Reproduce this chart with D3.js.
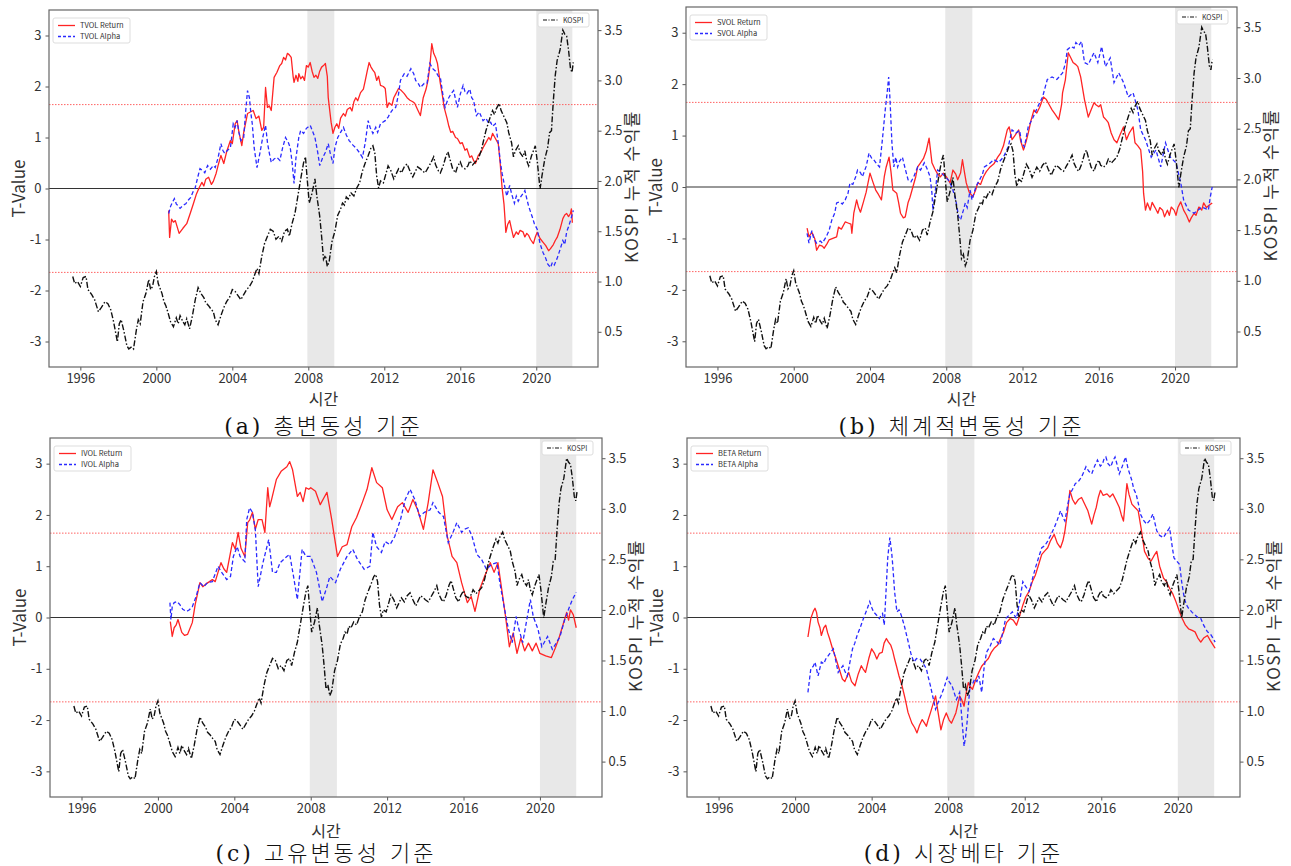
<!DOCTYPE html>
<html>
<head>
<meta charset="utf-8">
<script src="https://cdn.jsdelivr.net/npm/d3@7"></script>
<style>
  body { margin: 0; background: #fff; }
  text { font-family: "Noto Sans CJK KR", "Noto Sans", sans-serif; }
</style>
</head>
<body>
<script>
// ---------- DATA ----------
const xTicks = [1996, 2000, 2004, 2008, 2012, 2016, 2020];
const tTicks = [-3, -2, -1, 0, 1, 2, 3];
const kTicks = [0.5, 1.0, 1.5, 2.0, 2.5, 3.0, 3.5];
const critical = [1.645, -1.645];
const crisisBands = [[2007.95, 2009.37], [2020.0, 2021.9]];

const kospi = [[1995.6,1.05],[1995.7,0.98],[1995.85,1.0],[1996.0,0.95],[1996.15,1.04],[1996.3,1.05],[1996.4,0.92],[1996.6,0.87],[1996.75,0.82],[1996.95,0.70],[1997.1,0.74],[1997.3,0.80],[1997.45,0.78],[1997.6,0.72],[1997.75,0.60],[1997.95,0.40],[1998.05,0.58],[1998.15,0.62],[1998.3,0.50],[1998.45,0.36],[1998.55,0.33],[1998.7,0.35],[1998.8,0.33],[1998.95,0.52],[1999.05,0.62],[1999.15,0.58],[1999.3,0.80],[1999.45,0.88],[1999.6,1.02],[1999.7,0.92],[1999.8,0.95],[1999.9,1.05],[2000.0,1.10],[2000.1,0.98],[2000.2,0.93],[2000.3,0.88],[2000.4,0.80],[2000.5,0.76],[2000.6,0.70],[2000.75,0.60],[2000.9,0.55],[2001.05,0.64],[2001.15,0.58],[2001.25,0.66],[2001.4,0.60],[2001.5,0.57],[2001.6,0.63],[2001.75,0.53],[2001.9,0.66],[2002.05,0.82],[2002.2,0.94],[2002.35,0.88],[2002.5,0.84],[2002.6,0.79],[2002.75,0.76],[2002.9,0.72],[2003.0,0.70],[2003.1,0.62],[2003.25,0.57],[2003.4,0.66],[2003.55,0.74],[2003.7,0.80],[2003.85,0.84],[2004.0,0.92],[2004.15,0.90],[2004.3,0.86],[2004.45,0.82],[2004.6,0.87],[2004.75,0.92],[2004.9,0.95],[2005.05,1.0],[2005.2,1.08],[2005.3,1.13],[2005.4,1.08],[2005.55,1.25],[2005.7,1.38],[2005.85,1.45],[2006.0,1.52],[2006.15,1.50],[2006.3,1.42],[2006.45,1.45],[2006.6,1.40],[2006.75,1.50],[2006.9,1.52],[2007.0,1.45],[2007.15,1.58],[2007.3,1.68],[2007.45,1.85],[2007.6,2.02],[2007.75,2.18],[2007.85,2.24],[2007.95,2.00],[2008.05,1.78],[2008.2,1.88],[2008.35,2.02],[2008.45,1.85],[2008.6,1.65],[2008.7,1.45],[2008.8,1.22],[2008.9,1.26],[2009.0,1.15],[2009.1,1.20],[2009.25,1.40],[2009.4,1.50],[2009.55,1.66],[2009.7,1.72],[2009.8,1.78],[2009.9,1.76],[2010.0,1.84],[2010.1,1.82],[2010.25,1.88],[2010.4,1.85],[2010.55,1.93],[2010.7,1.98],[2010.85,2.10],[2011.0,2.18],[2011.15,2.25],[2011.3,2.33],[2011.4,2.35],[2011.5,2.28],[2011.6,2.05],[2011.7,1.93],[2011.8,2.00],[2011.95,1.98],[2012.1,2.08],[2012.2,2.15],[2012.35,2.10],[2012.5,2.02],[2012.6,2.06],[2012.75,2.12],[2012.9,2.08],[2013.05,2.14],[2013.2,2.17],[2013.35,2.10],[2013.5,2.04],[2013.6,2.08],[2013.75,2.14],[2013.9,2.12],[2014.0,2.10],[2014.15,2.08],[2014.3,2.13],[2014.45,2.18],[2014.6,2.24],[2014.7,2.16],[2014.85,2.10],[2014.95,2.08],[2015.1,2.15],[2015.25,2.25],[2015.35,2.29],[2015.45,2.22],[2015.6,2.12],[2015.75,2.08],[2015.85,2.14],[2016.0,2.19],[2016.1,2.14],[2016.25,2.12],[2016.4,2.15],[2016.5,2.20],[2016.65,2.16],[2016.8,2.19],[2016.95,2.22],[2017.1,2.30],[2017.2,2.38],[2017.35,2.50],[2017.45,2.56],[2017.55,2.62],[2017.7,2.70],[2017.8,2.66],[2017.9,2.72],[2018.05,2.77],[2018.15,2.70],[2018.3,2.64],[2018.45,2.58],[2018.55,2.48],[2018.7,2.38],[2018.8,2.24],[2018.9,2.30],[2019.05,2.35],[2019.15,2.28],[2019.3,2.24],[2019.4,2.30],[2019.5,2.20],[2019.6,2.15],[2019.75,2.25],[2019.85,2.30],[2019.95,2.35],[2020.05,2.20],[2020.2,1.92],[2020.3,2.05],[2020.45,2.22],[2020.6,2.33],[2020.7,2.48],[2020.8,2.50],[2020.9,2.80],[2021.0,3.05],[2021.1,3.20],[2021.25,3.30],[2021.4,3.50],[2021.5,3.46],[2021.6,3.44],[2021.7,3.30],[2021.8,3.12],[2021.88,3.08],[2021.95,3.18]];

const tvolReturn = [[2000.65,-0.43],[2000.7,-0.96],[2000.8,-0.6],[2000.9,-0.66],[2001.0,-0.63],[2001.2,-0.88],[2001.4,-0.78],[2001.6,-0.69],[2001.8,-0.47],[2001.95,-0.3],[2002.1,-0.12],[2002.26,0.02],[2002.4,0.12],[2002.5,0.05],[2002.6,0.18],[2002.75,0.22],[2002.9,0.08],[2003.0,0.14],[2003.15,0.3],[2003.25,0.45],[2003.4,0.65],[2003.55,0.49],[2003.7,0.72],[2003.9,0.94],[2004.0,0.88],[2004.15,1.27],[2004.25,1.33],[2004.35,1.1],[2004.5,0.84],[2004.6,1.1],[2004.8,1.47],[2004.95,1.5],[2005.1,1.53],[2005.25,1.37],[2005.4,1.42],[2005.55,1.14],[2005.65,1.2],[2005.75,1.98],[2005.85,1.59],[2005.95,1.62],[2006.05,1.53],[2006.2,2.18],[2006.35,2.28],[2006.5,2.41],[2006.6,2.45],[2006.7,2.57],[2006.8,2.52],[2006.9,2.65],[2007.0,2.62],[2007.1,2.57],[2007.2,2.2],[2007.25,2.08],[2007.35,2.22],[2007.45,2.1],[2007.5,2.25],[2007.6,2.15],[2007.7,2.2],[2007.8,2.12],[2007.9,2.41],[2008.0,2.38],[2008.1,2.47],[2008.2,2.3],[2008.3,2.18],[2008.4,2.22],[2008.5,2.16],[2008.6,2.3],[2008.7,2.38],[2008.8,2.41],[2008.9,2.45],[2009.0,2.2],[2009.05,1.78],[2009.2,1.3],[2009.3,1.08],[2009.4,1.2],[2009.5,1.27],[2009.6,1.18],[2009.7,1.38],[2009.85,1.47],[2009.95,1.42],[2010.05,1.55],[2010.2,1.59],[2010.3,1.52],[2010.4,1.7],[2010.5,1.78],[2010.6,1.72],[2010.75,1.88],[2010.9,1.95],[2011.0,2.12],[2011.1,2.3],[2011.2,2.47],[2011.3,2.38],[2011.4,2.32],[2011.5,2.27],[2011.6,2.12],[2011.7,2.2],[2011.8,2.02],[2011.95,2.0],[2012.05,1.96],[2012.15,1.59],[2012.25,1.68],[2012.4,1.63],[2012.5,1.78],[2012.6,1.85],[2012.75,1.96],[2012.9,1.92],[2013.05,1.86],[2013.2,1.78],[2013.35,1.73],[2013.5,1.7],[2013.6,1.67],[2013.75,1.55],[2013.9,1.43],[2014.05,1.78],[2014.2,1.95],[2014.3,2.12],[2014.4,2.4],[2014.5,2.84],[2014.6,2.65],[2014.7,2.57],[2014.8,2.45],[2014.95,2.06],[2015.05,1.85],[2015.15,1.59],[2015.3,1.38],[2015.4,1.22],[2015.5,1.1],[2015.6,1.12],[2015.75,1.0],[2015.85,0.98],[2016.0,0.88],[2016.1,0.9],[2016.25,0.75],[2016.35,0.78],[2016.5,0.61],[2016.6,0.64],[2016.7,0.55],[2016.8,0.49],[2016.95,0.65],[2017.1,0.72],[2017.2,0.8],[2017.35,0.9],[2017.5,1.0],[2017.6,0.95],[2017.7,1.08],[2017.85,0.98],[2018.0,0.88],[2018.1,0.5],[2018.2,0.02],[2018.3,-0.3],[2018.35,-0.57],[2018.4,-0.86],[2018.5,-0.7],[2018.6,-0.63],[2018.7,-0.8],[2018.8,-0.96],[2018.95,-0.85],[2019.05,-0.9],[2019.15,-0.82],[2019.3,-0.85],[2019.4,-0.95],[2019.5,-0.88],[2019.6,-0.92],[2019.7,-1.0],[2019.85,-1.08],[2019.95,-0.95],[2020.05,-0.86],[2020.2,-0.98],[2020.35,-1.05],[2020.5,-1.12],[2020.65,-1.22],[2020.75,-1.18],[2020.9,-1.1],[2021.0,-1.02],[2021.1,-0.96],[2021.25,-0.8],[2021.4,-0.59],[2021.5,-0.52],[2021.6,-0.49],[2021.7,-0.55],[2021.8,-0.49],[2021.85,-0.4],[2021.9,-0.67]];

const tvolAlpha = [[2000.65,-0.49],[2000.75,-0.35],[2000.85,-0.27],[2000.95,-0.2],[2001.05,-0.3],[2001.25,-0.39],[2001.4,-0.33],[2001.55,-0.3],[2001.7,-0.22],[2001.8,-0.18],[2001.95,-0.05],[2002.05,0.02],[2002.2,0.25],[2002.3,0.39],[2002.45,0.35],[2002.55,0.31],[2002.7,0.45],[2002.85,0.38],[2003.0,0.45],[2003.1,0.41],[2003.25,0.6],[2003.4,0.88],[2003.5,0.75],[2003.6,0.69],[2003.75,0.75],[2003.9,0.8],[2004.05,1.27],[2004.15,1.2],[2004.25,1.33],[2004.35,1.1],[2004.45,0.94],[2004.6,1.0],[2004.7,1.5],[2004.8,1.92],[2004.9,1.78],[2004.97,1.5],[2005.05,1.27],[2005.15,0.8],[2005.3,0.41],[2005.45,0.69],[2005.6,1.0],[2005.75,1.24],[2005.85,0.9],[2005.95,0.69],[2006.05,0.51],[2006.2,0.58],[2006.35,0.61],[2006.5,0.55],[2006.65,0.8],[2006.8,1.0],[2006.95,0.9],[2007.05,0.8],[2007.15,0.5],[2007.25,0.1],[2007.35,0.6],[2007.5,1.0],[2007.6,1.14],[2007.75,1.08],[2007.9,1.18],[2008.1,1.24],[2008.25,1.1],[2008.35,1.0],[2008.5,0.7],[2008.6,0.45],[2008.75,0.6],[2008.9,0.71],[2009.05,0.88],[2009.15,0.7],[2009.3,0.49],[2009.4,0.8],[2009.55,1.0],[2009.7,1.1],[2009.85,1.2],[2010.0,1.05],[2010.15,0.94],[2010.35,0.85],[2010.5,0.8],[2010.7,0.7],[2010.85,0.61],[2011.0,0.9],[2011.15,1.33],[2011.25,1.2],[2011.4,1.08],[2011.55,1.2],[2011.65,1.1],[2011.8,1.27],[2012.05,1.33],[2012.2,1.4],[2012.3,1.47],[2012.45,1.55],[2012.6,1.59],[2012.75,1.85],[2012.85,2.12],[2013.05,2.25],[2013.2,2.2],[2013.4,2.35],[2013.55,2.25],[2013.65,2.12],[2013.8,2.05],[2013.9,1.98],[2014.1,2.06],[2014.25,2.06],[2014.4,2.45],[2014.55,2.35],[2014.7,2.3],[2014.85,2.2],[2014.95,2.18],[2015.1,1.8],[2015.2,1.59],[2015.35,1.75],[2015.5,1.85],[2015.65,1.92],[2015.75,1.75],[2015.85,1.59],[2016.0,1.85],[2016.15,2.02],[2016.25,1.9],[2016.35,1.86],[2016.5,1.95],[2016.6,1.78],[2016.7,1.73],[2016.85,1.43],[2017.0,1.5],[2017.2,1.33],[2017.35,1.38],[2017.5,1.27],[2017.6,1.3],[2017.7,1.22],[2017.85,1.27],[2018.0,0.9],[2018.1,0.55],[2018.2,0.3],[2018.35,0.02],[2018.45,-0.15],[2018.6,0.06],[2018.7,-0.1],[2018.85,-0.29],[2018.95,-0.15],[2019.05,-0.25],[2019.15,-0.18],[2019.3,-0.1],[2019.4,-0.04],[2019.5,-0.2],[2019.6,-0.35],[2019.8,-0.57],[2019.9,-0.69],[2020.05,-0.8],[2020.2,-1.08],[2020.35,-1.25],[2020.5,-1.37],[2020.6,-1.48],[2020.75,-1.55],[2020.85,-1.45],[2020.95,-1.5],[2021.1,-1.37],[2021.25,-1.2],[2021.4,-1.02],[2021.5,-1.1],[2021.6,-0.85],[2021.7,-0.75],[2021.8,-0.63],[2021.9,-0.5],[2021.95,-0.43]];

const svolReturn = [[2000.7,-0.8],[2000.8,-0.97],[2000.95,-0.88],[2001.1,-1.0],[2001.2,-1.23],[2001.35,-1.13],[2001.5,-1.15],[2001.6,-1.19],[2001.75,-1.1],[2001.85,-1.03],[2002.05,-1.0],[2002.25,-0.97],[2002.35,-0.78],[2002.5,-0.82],[2002.7,-0.68],[2002.85,-0.7],[2003.0,-0.72],[2003.05,-0.9],[2003.15,-0.51],[2003.3,-0.25],[2003.4,-0.4],[2003.5,-0.49],[2003.65,-0.3],[2003.8,-0.1],[2004.0,0.27],[2004.15,0.1],[2004.3,-0.06],[2004.45,-0.15],[2004.6,-0.25],[2004.75,0.2],[2004.85,0.39],[2005.0,0.58],[2005.1,0.3],[2005.2,-0.06],[2005.4,-0.12],[2005.5,-0.3],[2005.6,-0.51],[2005.75,-0.6],[2005.85,-0.58],[2006.0,-0.3],[2006.1,-0.2],[2006.25,0.0],[2006.4,0.2],[2006.5,0.39],[2006.65,0.47],[2006.8,0.55],[2006.95,0.7],[2007.1,0.95],[2007.25,0.47],[2007.4,0.35],[2007.55,0.25],[2007.7,0.2],[2007.85,0.27],[2008.0,0.2],[2008.2,0.08],[2008.35,0.33],[2008.5,0.25],[2008.6,0.14],[2008.75,0.27],[2008.85,0.53],[2008.95,0.3],[2009.05,0.08],[2009.2,-0.1],[2009.4,-0.19],[2009.55,-0.05],[2009.65,0.08],[2009.8,0.05],[2009.95,0.2],[2010.1,0.3],[2010.3,0.39],[2010.5,0.45],[2010.7,0.58],[2010.85,0.66],[2011.0,0.8],[2011.2,1.11],[2011.3,1.17],[2011.45,0.92],[2011.6,1.0],[2011.8,1.11],[2011.9,0.9],[2012.05,0.72],[2012.2,0.9],[2012.3,1.05],[2012.45,1.3],[2012.6,1.5],[2012.75,1.44],[2012.9,1.55],[2013.1,1.75],[2013.25,1.7],[2013.4,1.6],[2013.55,1.5],[2013.7,1.42],[2013.9,1.31],[2014.05,1.6],[2014.1,1.83],[2014.25,2.09],[2014.4,2.61],[2014.55,2.5],[2014.65,2.42],[2014.8,2.38],[2014.9,2.34],[2015.05,2.14],[2015.25,1.7],[2015.45,1.36],[2015.6,1.5],[2015.75,1.64],[2015.85,1.6],[2016.0,1.56],[2016.1,1.6],[2016.25,1.36],[2016.4,1.3],[2016.5,1.25],[2016.65,1.05],[2016.8,0.92],[2016.95,0.86],[2017.1,1.0],[2017.3,1.17],[2017.45,0.92],[2017.6,1.05],[2017.8,1.17],[2017.9,0.86],[2018.05,0.8],[2018.2,0.72],[2018.3,0.3],[2018.35,-0.12],[2018.45,-0.45],[2018.55,-0.31],[2018.7,-0.45],[2018.8,-0.3],[2018.95,-0.4],[2019.1,-0.51],[2019.2,-0.4],[2019.35,-0.45],[2019.45,-0.58],[2019.6,-0.45],[2019.7,-0.55],[2019.8,-0.39],[2019.95,-0.45],[2020.05,-0.55],[2020.15,-0.4],[2020.3,-0.29],[2020.45,-0.45],[2020.6,-0.55],[2020.75,-0.68],[2020.85,-0.6],[2021.0,-0.51],[2021.1,-0.55],[2021.25,-0.39],[2021.4,-0.45],[2021.5,-0.31],[2021.65,-0.4],[2021.8,-0.35],[2021.95,-0.31]];

const svolAlpha = [[2000.7,-0.9],[2000.8,-1.09],[2000.95,-0.85],[2001.05,-1.0],[2001.2,-1.09],[2001.4,-1.05],[2001.5,-1.09],[2001.7,-0.97],[2001.85,-0.85],[2002.0,-0.64],[2002.15,-0.51],[2002.25,-0.31],[2002.4,-0.29],[2002.55,-0.33],[2002.7,-0.25],[2002.85,-0.12],[2002.95,0.08],[2003.1,0.05],[2003.25,0.2],[2003.35,0.33],[2003.5,0.28],[2003.6,0.2],[2003.8,0.4],[2003.95,0.66],[2004.1,0.55],[2004.2,0.53],[2004.35,0.45],[2004.5,0.39],[2004.65,0.92],[2004.8,1.5],[2004.9,1.83],[2004.98,2.14],[2005.05,1.7],[2005.15,0.86],[2005.25,0.39],[2005.35,0.58],[2005.45,0.39],[2005.55,0.5],[2005.7,0.58],[2005.85,0.35],[2006.0,0.14],[2006.15,0.1],[2006.3,0.2],[2006.5,0.39],[2006.65,0.33],[2006.85,0.47],[2007.0,0.35],[2007.15,0.2],[2007.25,-0.12],[2007.3,-0.45],[2007.45,0.0],[2007.55,0.33],[2007.75,0.27],[2007.95,0.2],[2008.1,0.14],[2008.3,0.0],[2008.5,-0.25],[2008.65,-0.58],[2008.75,-0.64],[2008.9,-0.45],[2009.0,-0.31],[2009.1,-0.4],[2009.25,-0.06],[2009.35,-0.25],[2009.55,0.0],[2009.75,0.14],[2009.9,0.25],[2010.0,0.39],[2010.25,0.45],[2010.5,0.53],[2010.75,0.48],[2011.0,0.58],[2011.25,0.78],[2011.45,1.11],[2011.65,1.05],[2011.85,1.1],[2011.95,0.86],[2012.1,0.78],[2012.3,1.17],[2012.55,1.35],[2012.8,1.56],[2013.05,1.75],[2013.3,2.09],[2013.55,2.14],[2013.8,2.09],[2014.1,2.22],[2014.25,2.4],[2014.35,2.67],[2014.55,2.73],[2014.7,2.7],[2014.8,2.81],[2014.95,2.75],[2015.1,2.83],[2015.25,2.42],[2015.45,2.38],[2015.6,2.5],[2015.75,2.61],[2015.95,2.42],[2016.15,2.73],[2016.35,2.34],[2016.6,2.51],[2016.8,2.03],[2017.05,2.22],[2017.3,2.03],[2017.55,1.75],[2017.8,1.83],[2018.05,1.5],[2018.2,1.11],[2018.45,0.92],[2018.75,0.58],[2019.0,0.72],[2019.25,0.39],[2019.5,0.86],[2019.75,0.58],[2020.05,0.47],[2020.3,0.08],[2020.45,-0.25],[2020.7,-0.45],[2021.0,-0.51],[2021.2,-0.45],[2021.4,-0.39],[2021.6,-0.42],[2021.75,-0.45],[2021.85,-0.19],[2021.95,0.0]];

const ivolReturn = [[2000.65,-0.08],[2000.75,-0.37],[2000.85,-0.2],[2000.95,-0.15],[2001.05,-0.04],[2001.25,-0.29],[2001.4,-0.35],[2001.55,-0.33],[2001.8,-0.1],[2001.95,0.25],[2002.2,0.68],[2002.35,0.6],[2002.5,0.65],[2002.7,0.7],[2002.85,0.74],[2003.0,0.7],[2003.3,1.07],[2003.45,0.95],[2003.6,0.88],[2003.9,1.46],[2004.05,1.33],[2004.2,1.66],[2004.35,1.35],[2004.55,1.19],[2004.7,1.85],[2004.8,1.9],[2004.95,2.05],[2005.1,1.72],[2005.25,1.91],[2005.45,1.91],[2005.6,1.66],[2005.75,2.53],[2005.85,2.16],[2005.95,2.3],[2006.2,2.69],[2006.45,2.85],[2006.75,2.94],[2006.9,3.04],[2007.05,2.88],[2007.3,2.36],[2007.45,2.44],[2007.6,2.26],[2007.75,2.53],[2007.9,2.5],[2008.0,2.53],[2008.25,2.46],[2008.5,2.2],[2008.7,2.34],[2008.85,2.44],[2009.1,1.91],[2009.4,1.19],[2009.65,1.38],[2009.9,1.42],[2010.15,1.77],[2010.4,1.95],[2010.7,2.24],[2010.95,2.5],[2011.2,2.92],[2011.45,2.63],[2011.75,2.53],[2012.0,2.1],[2012.25,1.91],[2012.55,2.16],[2012.8,2.24],[2013.1,2.05],[2013.35,2.3],[2013.6,2.1],[2013.9,1.72],[2014.15,2.24],[2014.4,2.88],[2014.65,2.63],[2014.9,2.36],[2015.15,1.58],[2015.4,1.19],[2015.65,1.07],[2015.9,0.68],[2016.2,0.29],[2016.4,0.41],[2016.6,0.12],[2016.85,0.55],[2017.1,0.8],[2017.4,1.07],[2017.6,0.88],[2017.8,1.07],[2018.0,0.55],[2018.2,0.02],[2018.4,-0.57],[2018.6,-0.3],[2018.8,-0.7],[2019.0,-0.4],[2019.2,-0.65],[2019.4,-0.5],[2019.6,-0.65],[2019.8,-0.5],[2020.0,-0.7],[2020.3,-0.75],[2020.6,-0.78],[2020.8,-0.6],[2021.0,-0.4],[2021.2,-0.15],[2021.4,0.1],[2021.5,-0.05],[2021.6,0.15],[2021.75,0.05],[2021.9,-0.2]];

const ivolAlpha = [[2000.63,0.29],[2000.68,-0.04],[2000.75,0.21],[2000.85,0.29],[2001.0,0.31],[2001.15,0.25],[2001.3,0.16],[2001.5,0.12],[2001.65,0.15],[2001.8,0.21],[2002.0,0.41],[2002.2,0.68],[2002.4,0.6],[2002.6,0.68],[2002.85,0.70],[2003.15,1.0],[2003.3,0.9],[2003.6,0.74],[2003.8,0.8],[2003.95,1.19],[2004.15,1.38],[2004.3,1.19],[2004.55,1.09],[2004.65,1.91],[2004.8,2.14],[2004.95,2.05],[2005.1,1.72],[2005.25,0.6],[2005.5,1.07],[2005.8,1.52],[2006.0,0.88],[2006.2,0.88],[2006.4,1.07],[2006.75,1.19],[2006.9,1.23],[2007.1,0.8],[2007.3,0.35],[2007.55,1.33],[2007.75,1.19],[2008.0,1.19],[2008.3,0.88],[2008.6,0.31],[2008.85,0.6],[2009.0,0.8],[2009.3,0.68],[2009.55,0.94],[2009.9,1.19],[2010.2,1.33],[2010.45,1.13],[2010.8,0.94],[2011.1,1.0],[2011.25,1.66],[2011.45,1.38],[2011.7,1.27],[2011.9,1.48],[2012.15,1.42],[2012.4,1.58],[2012.7,1.91],[2012.95,2.3],[2013.2,2.5],[2013.45,2.3],[2013.7,1.97],[2013.95,2.05],[2014.25,2.1],[2014.4,2.24],[2014.7,2.05],[2014.95,1.97],[2015.2,1.46],[2015.45,1.66],[2015.65,1.85],[2015.9,1.66],[2016.05,1.72],[2016.25,1.75],[2016.45,1.58],[2016.7,1.23],[2016.95,1.13],[2017.2,0.94],[2017.45,1.03],[2017.75,1.07],[2017.9,0.68],[2018.15,0.16],[2018.35,-0.23],[2018.55,-0.49],[2018.75,0.02],[2018.9,-0.23],[2019.1,-0.49],[2019.5,0.35],[2019.65,0.02],[2019.9,-0.23],[2020.1,-0.57],[2020.4,-0.37],[2020.65,-0.62],[2020.85,-0.5],[2021.05,-0.37],[2021.3,-0.04],[2021.55,0.21],[2021.7,0.35],[2021.9,0.49]];

const betaReturn = [[2000.67,-0.38],[2000.82,-0.02],[2000.95,0.12],[2001.04,0.18],[2001.12,0.1],[2001.2,-0.09],[2001.3,-0.2],[2001.37,-0.35],[2001.5,-0.2],[2001.6,-0.15],[2001.7,-0.3],[2001.8,-0.41],[2001.95,-0.6],[2002.14,-0.81],[2002.3,-1.0],[2002.47,-1.2],[2002.6,-1.25],[2002.8,-1.07],[2002.95,-1.25],[2003.13,-1.33],[2003.3,-1.1],[2003.46,-0.94],[2003.55,-1.0],[2003.68,-1.07],[2003.85,-0.8],[2004.0,-0.61],[2004.15,-0.7],[2004.27,-0.81],[2004.4,-0.7],[2004.55,-0.68],[2004.65,-0.5],[2004.77,-0.41],[2004.88,-0.48],[2005.0,-0.54],[2005.1,-0.65],[2005.2,-0.81],[2005.3,-0.95],[2005.43,-1.14],[2005.6,-1.35],[2005.76,-1.6],[2005.9,-1.85],[2006.1,-2.06],[2006.25,-2.15],[2006.37,-2.25],[2006.5,-2.1],[2006.64,-1.99],[2006.75,-2.05],[2006.86,-2.12],[2006.95,-2.0],[2007.07,-1.86],[2007.2,-1.7],[2007.34,-1.53],[2007.45,-1.8],[2007.62,-2.19],[2007.75,-2.0],[2007.9,-1.86],[2008.05,-2.0],[2008.17,-2.06],[2008.3,-1.95],[2008.4,-1.86],[2008.5,-1.7],[2008.6,-1.53],[2008.7,-1.6],[2008.83,-1.73],[2008.95,-1.45],[2009.05,-1.27],[2009.15,-1.35],[2009.27,-1.4],[2009.45,-1.2],[2009.6,-1.07],[2009.75,-0.95],[2009.93,-0.87],[2010.1,-0.8],[2010.25,-0.68],[2010.4,-0.6],[2010.58,-0.54],[2010.75,-0.4],[2010.9,-0.28],[2011.05,-0.1],[2011.24,-0.02],[2011.4,-0.05],[2011.57,-0.15],[2011.75,0.05],[2011.9,0.24],[2012.05,0.4],[2012.23,0.51],[2012.4,0.7],[2012.56,0.83],[2012.7,1.0],[2012.89,1.23],[2013.05,1.3],[2013.2,1.36],[2013.35,1.5],[2013.54,1.62],[2013.7,1.45],[2013.87,1.36],[2014.0,1.5],[2014.1,1.69],[2014.25,2.1],[2014.36,2.48],[2014.5,2.3],[2014.64,2.21],[2014.8,2.3],[2014.97,2.34],[2015.15,2.2],[2015.3,2.08],[2015.4,1.95],[2015.5,1.82],[2015.62,2.0],[2015.74,2.15],[2015.85,2.35],[2015.96,2.48],[2016.1,2.38],[2016.3,2.41],[2016.45,2.35],[2016.6,2.41],[2016.75,2.3],[2016.94,2.15],[2017.05,2.0],[2017.16,1.88],[2017.34,2.61],[2017.45,2.4],[2017.6,2.21],[2017.75,2.15],[2017.93,2.08],[2018.1,1.7],[2018.26,1.29],[2018.45,1.15],[2018.6,1.1],[2018.75,1.2],[2018.9,1.29],[2019.05,1.0],[2019.25,0.77],[2019.4,0.7],[2019.57,0.57],[2019.75,0.45],[2019.9,0.31],[2020.05,0.15],[2020.23,-0.02],[2020.4,-0.15],[2020.56,-0.22],[2020.75,-0.25],[2020.9,-0.28],[2021.05,-0.4],[2021.2,-0.48],[2021.35,-0.4],[2021.55,-0.35],[2021.7,-0.45],[2021.85,-0.54],[2021.95,-0.6]];

const betaAlpha = [[2000.67,-1.46],[2000.82,-1.0],[2000.95,-0.95],[2001.04,-0.87],[2001.2,-1.14],[2001.37,-0.87],[2001.5,-0.9],[2001.6,-0.81],[2001.8,-0.71],[2002.0,-0.61],[2002.1,-0.8],[2002.25,-1.07],[2002.38,-1.0],[2002.5,-0.94],[2002.6,-1.05],[2002.73,-1.14],[2002.85,-0.9],[2003.0,-0.61],[2003.12,-0.5],[2003.24,-0.35],[2003.4,-0.2],[2003.57,-0.02],[2003.75,0.15],[2003.9,0.31],[2004.0,0.2],[2004.1,0.11],[2004.25,0.05],[2004.4,-0.02],[2004.5,0.05],[2004.57,0.08],[2004.66,-0.15],[2004.75,0.5],[2004.84,1.16],[2004.95,1.56],[2005.05,1.25],[2005.1,1.03],[2005.2,0.5],[2005.32,0.11],[2005.43,0.15],[2005.54,0.05],[2005.7,-0.15],[2005.87,-0.41],[2006.05,-0.7],[2006.2,-0.87],[2006.35,-0.8],[2006.53,-0.81],[2006.7,-0.9],[2006.86,-1.0],[2006.95,-1.15],[2007.07,-1.33],[2007.2,-1.55],[2007.34,-1.79],[2007.48,-1.65],[2007.62,-1.53],[2007.8,-1.35],[2007.95,-1.17],[2008.05,-1.25],[2008.2,-1.33],[2008.3,-1.45],[2008.43,-1.6],[2008.6,-1.46],[2008.7,-1.9],[2008.83,-2.51],[2008.92,-2.3],[2009.0,-1.99],[2009.08,-1.6],[2009.16,-1.27],[2009.27,-1.3],[2009.38,-1.2],[2009.5,-1.25],[2009.6,-1.14],[2009.75,-1.46],[2009.87,-1.0],[2010.0,-0.68],[2010.2,-0.55],[2010.36,-0.41],[2010.5,-0.45],[2010.7,-0.54],[2010.85,-0.3],[2011.0,-0.02],[2011.2,0.05],[2011.35,0.11],[2011.45,0.05],[2011.57,-0.02],[2011.75,0.35],[2011.9,0.7],[2012.05,0.6],[2012.23,0.51],[2012.4,0.75],[2012.56,0.97],[2012.75,1.2],[2012.89,1.36],[2013.05,1.4],[2013.2,1.49],[2013.35,1.6],[2013.54,1.75],[2013.7,1.9],[2013.87,2.08],[2014.0,1.95],[2014.1,1.88],[2014.25,2.2],[2014.36,2.41],[2014.5,2.5],[2014.64,2.61],[2014.8,2.65],[2014.97,2.74],[2015.1,2.85],[2015.2,2.94],[2015.35,2.85],[2015.5,2.8],[2015.65,2.95],[2015.8,3.07],[2015.95,2.95],[2016.07,3.0],[2016.15,3.1],[2016.24,3.13],[2016.35,3.0],[2016.5,2.94],[2016.6,3.05],[2016.72,3.13],[2016.85,2.95],[2016.94,2.8],[2017.1,2.95],[2017.27,3.13],[2017.4,2.9],[2017.6,2.67],[2017.7,2.5],[2017.82,2.41],[2017.95,2.2],[2018.04,2.02],[2018.2,1.9],[2018.37,1.82],[2018.55,1.9],[2018.7,2.02],[2018.8,1.85],[2018.9,1.69],[2019.05,1.6],[2019.25,1.56],[2019.4,1.65],[2019.57,1.75],[2019.7,1.4],[2019.8,1.16],[2019.95,1.1],[2020.1,1.03],[2020.2,0.7],[2020.34,0.37],[2020.45,0.25],[2020.56,0.18],[2020.75,0.1],[2020.9,0.05],[2021.05,0.0],[2021.2,-0.02],[2021.35,-0.15],[2021.55,-0.28],[2021.7,-0.32],[2021.85,-0.41],[2021.95,-0.48]];

// ---------- LAYOUT ----------
const W = 1291, H = 866;
const xDomain = [1994.35, 2023.25];
const tDomain = [-3.5, 3.5];
const kDomain = [0.15, 3.7];

const panels = [
  { title: "(a) 총변동성 기준", name: "TVOL", ret: tvolReturn, alpha: tvolAlpha,
    l: 49, t: 10, r: 598, b: 367, xlabY: 405, titleY: 434 },
  { title: "(b) 체계적변동성 기준", name: "SVOL", ret: svolReturn, alpha: svolAlpha,
    l: 686, t: 7, r: 1237, b: 367, xlabY: 405, titleY: 434 },
  { title: "(c) 고유변동성 기준", name: "IVOL", ret: ivolReturn, alpha: ivolAlpha,
    l: 50, t: 438, r: 602, b: 797, xlabY: 837, titleY: 861 },
  { title: "(d) 시장베타 기준", name: "BETA", ret: betaReturn, alpha: betaAlpha,
    l: 687, t: 438, r: 1240, b: 797, xlabY: 837, titleY: 861 }
];

const svg = d3.select("body").append("svg")
  .attr("width", W).attr("height", H)
  .style("background", "#fff");

function drawPanel(p) {
  const g = svg.append("g");

  const x = d3.scaleLinear().domain(xDomain).range([p.l, p.r]);
  const y = d3.scaleLinear().domain(tDomain).range([p.b, p.t]);
  const yk = d3.scaleLinear().domain(kDomain).range([p.b, p.t]);

  // plot background
  g.append("rect").attr("x", p.l).attr("y", p.t)
    .attr("width", p.r - p.l).attr("height", p.b - p.t).attr("fill", "#fff");

  // CRISIS BANDS
  g.selectAll("rect.band").data(crisisBands).join("rect")
    .attr("class", "band")
    .attr("x", d => x(d[0])).attr("width", d => x(d[1]) - x(d[0]))
    .attr("y", p.t).attr("height", p.b - p.t)
    .attr("fill", "#e8e8e8");

  // ZERO LINE + CRITICAL VALUES
  g.append("line")
    .attr("x1", p.l).attr("x2", p.r).attr("y1", y(0)).attr("y2", y(0))
    .attr("stroke", "#333").attr("stroke-width", 1.2);
  g.selectAll("line.crit").data(critical).join("line")
    .attr("class", "crit")
    .attr("x1", p.l).attr("x2", p.r).attr("y1", d => y(d)).attr("y2", d => y(d))
    .attr("stroke", "#ff5050").attr("stroke-width", 0.9)
    .attr("stroke-dasharray", "1.5,1.5");

  const tLine = d3.line().x(d => x(d[0])).y(d => y(d[1]));
  const kLine = d3.line().x(d => x(d[0])).y(d => yk(d[1]));

  // T-VALUE LINES
  g.append("path").datum(p.ret)
    .attr("fill", "none").attr("stroke", "#ff2424").attr("stroke-width", 1.3)
    .attr("stroke-linejoin", "round").attr("d", tLine);
  g.append("path").datum(p.alpha)
    .attr("fill", "none").attr("stroke", "#2a2aff").attr("stroke-width", 1.3)
    .attr("stroke-dasharray", "4,2.5").attr("d", tLine);

  // KOSPI (twin axis)
  g.append("path").datum(kospi)
    .attr("fill", "none").attr("stroke", "#111").attr("stroke-width", 1.4)
    .attr("stroke-dasharray", "6,2,1.5,2").attr("d", kLine);

  // AXES
  const styleAxis = sel => {
    sel.select(".domain").remove();
    sel.selectAll(".tick line").attr("stroke", "#555");
    sel.selectAll(".tick text").attr("fill", "#333").style("font-size", "13px")
      .style("font-family", "'Noto Sans CJK KR', sans-serif");
  };
  g.append("g").attr("transform", `translate(0,${p.b})`)
    .call(d3.axisBottom(x).tickValues(xTicks).tickFormat(d3.format("d")).tickSize(3.5).tickPadding(3))
    .call(styleAxis);
  g.append("g").attr("transform", `translate(${p.l},0)`)
    .call(d3.axisLeft(y).tickValues(tTicks).tickFormat(d => d < 0 ? "-" + Math.abs(d) : d).tickSize(3.5).tickPadding(4))
    .call(styleAxis);
  g.append("g").attr("transform", `translate(${p.r},0)`)
    .call(d3.axisRight(yk).tickValues(kTicks).tickFormat(d3.format(".1f")).tickSize(3.5).tickPadding(3))
    .call(styleAxis);

  // frame
  g.append("rect").attr("x", p.l).attr("y", p.t)
    .attr("width", p.r - p.l).attr("height", p.b - p.t)
    .attr("fill", "none").attr("stroke", "#666").attr("stroke-width", 1.2);

  // LEGEND (left)
  const lx = p.l + 4, ly = p.t + 8;
  const leg = g.append("g").attr("transform", `translate(${lx},${ly})`);
  leg.append("rect").attr("width", 77).attr("height", 25).attr("rx", 2)
    .attr("fill", "#fff").attr("stroke", "#ddd");
  const items = [
    { label: p.name + " Return", color: "#ff2424", dash: null },
    { label: p.name + " Alpha", color: "#2a2aff", dash: "3,2" }
  ];
  items.forEach((it, i) => {
    const yy = 7.5 + i * 11;
    leg.append("line").attr("x1", 5).attr("x2", 22).attr("y1", yy).attr("y2", yy)
      .attr("stroke", it.color).attr("stroke-width", 1.3)
      .attr("stroke-dasharray", it.dash);
    leg.append("text").attr("x", 27).attr("y", yy + 2.6)
      .style("font-size", "7.5px").attr("fill", "#333").text(it.label);
  });

  // LEGEND (right)
  const kl = g.append("g").attr("transform", `translate(${p.r - 60},${p.t + 3})`);
  kl.append("rect").attr("width", 51).attr("height", 14).attr("rx", 2)
    .attr("fill", "#fff").attr("stroke", "#ddd");
  kl.append("line").attr("x1", 5).attr("x2", 20).attr("y1", 7).attr("y2", 7)
    .attr("stroke", "#111").attr("stroke-width", 1.2).attr("stroke-dasharray", "4,1.5,1,1.5");
  kl.append("text").attr("x", 25).attr("y", 9.5)
    .style("font-size", "7px").attr("fill", "#333").text("KOSPI");

  // AXIS TITLES
  const cy = (p.t + p.b) / 2;
  g.append("text").attr("transform", `translate(${p.l - 24},${cy}) rotate(-90)`)
    .attr("text-anchor", "middle").style("font-size", "17px").attr("fill", "#333")
    .text("T-Value");
  g.append("text").attr("transform", `translate(${p.r + 40},${cy - 2}) rotate(-90)`)
    .attr("text-anchor", "middle").style("font-size", "17px").attr("fill", "#333")
    .style("letter-spacing", "1.5px")
    .text("KOSPI 누적 수익률");
  g.append("text").attr("x", (p.l + p.r) / 2).attr("y", p.xlabY)
    .attr("text-anchor", "middle").style("font-size", "16px").attr("fill", "#333")
    .text("시간");

  // PANEL CAPTION
  g.append("text").attr("x", (p.l + p.r) / 2).attr("y", p.titleY)
    .attr("text-anchor", "middle").style("font-size", "22px")
    .style("font-family", "'DejaVu Serif', 'Noto Sans CJK KR', serif")
    .style("font-weight", "300")
    .style("letter-spacing", "3px").attr("fill", "#111")
    .text(p.title);
}

panels.forEach(drawPanel);
</script>
</body>
</html>
